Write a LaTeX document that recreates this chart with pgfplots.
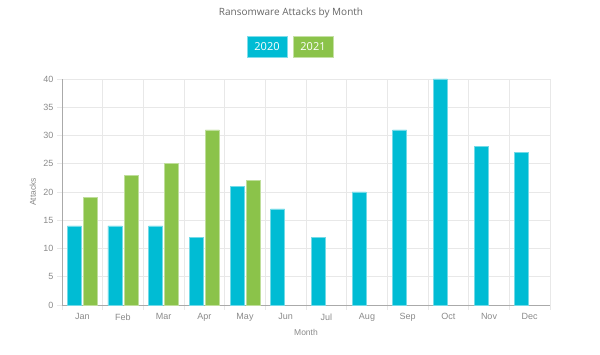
\documentclass[border=0pt]{standalone}
\usepackage{fontspec}
\setmainfont{Open Sans}
\newfontfamily\arialf{Liberation Sans}
\usepackage{pgfplots}
\pgfplotsset{compat=1.18}
\definecolor{cy}{HTML}{00BCD4}
\definecolor{gr}{HTML}{8BC34A}
\definecolor{txt}{HTML}{666666}
\definecolor{tk}{HTML}{8A8A8A}
\definecolor{grd}{HTML}{E8E8E8}
\definecolor{axl}{HTML}{AAAAAA}
\begin{document}
\begin{tikzpicture}
\useasboundingbox (0pt,0pt) rectangle (600pt,355pt);
\node[text=txt, font=\fontsize{10}{12}\selectfont] at (291pt,342pt) {Ransomware Attacks by Month};
\node[fill=cy, draw=cy!50!white, text=white, minimum width=40pt, minimum height=21pt, inner sep=0pt, font=\fontsize{11}{13}\selectfont] at (267pt,308.5pt) {2020};
\node[fill=gr, draw=gr!50!white, text=white, minimum width=40pt, minimum height=21pt, inner sep=0pt, font=\fontsize{11}{13}\selectfont] at (313pt,308.5pt) {2021};
\begin{axis}[at={(62pt,50pt)}, anchor=south west, scale only axis, width=488pt, height=226pt,
  xmin=0, xmax=12, ymin=0, ymax=40,
  xtick={0.5,1.5,...,11.5},
  xticklabels={Jan,Feb,Mar,Apr,May,Jun,Jul,Aug,Sep,Oct,Nov,Dec},
  minor xtick={0,1,...,12},
  ytick={0,5,...,40},
  xminorgrids, ymajorgrids, xmajorgrids=false,
  grid style={draw=grd, line width=0.6pt},
  minor grid style={draw=grd, line width=0.6pt},
  axis lines=left, axis line style={draw=axl, line width=0.6pt, -},
  tick align=outside,
  major tick length=5pt, minor tick length=5pt,
  every major x tick/.append style={draw=none},
  every minor tick/.append style={draw=grd, line width=0.6pt},
  every major y tick/.append style={draw=grd, line width=0.6pt},
  tick label style={text=tk, font=\arialf\fontsize{9}{11}\selectfont},
  /pgf/number format/assume math mode=true,
  xlabel={Month}, ylabel={Attacks},
  label style={text=tk, font=\arialf\fontsize{8.5}{10}\selectfont},
  xlabel style={at={(axis description cs:0.5,-0.12)}, anchor=center},
  ylabel style={at={(axis description cs:-0.06,0.5)}, anchor=center},
  clip=false,
]
\addplot[ybar, bar width=14pt, bar shift=-8pt, fill=cy, draw=cy!55!white, line width=0.6pt]
  coordinates {(0.5,14) (1.5,14) (2.5,14) (3.5,12) (4.5,21) (5.5,17) (6.5,12) (7.5,20) (8.5,31) (9.5,40) (10.5,28) (11.5,27)};
\addplot[ybar, bar width=14pt, bar shift=8pt, fill=gr, draw=gr!55!white, line width=0.6pt]
  coordinates {(0.5,19) (1.5,23) (2.5,25) (3.5,31) (4.5,22)};
\end{axis}
\end{tikzpicture}
\end{document}
